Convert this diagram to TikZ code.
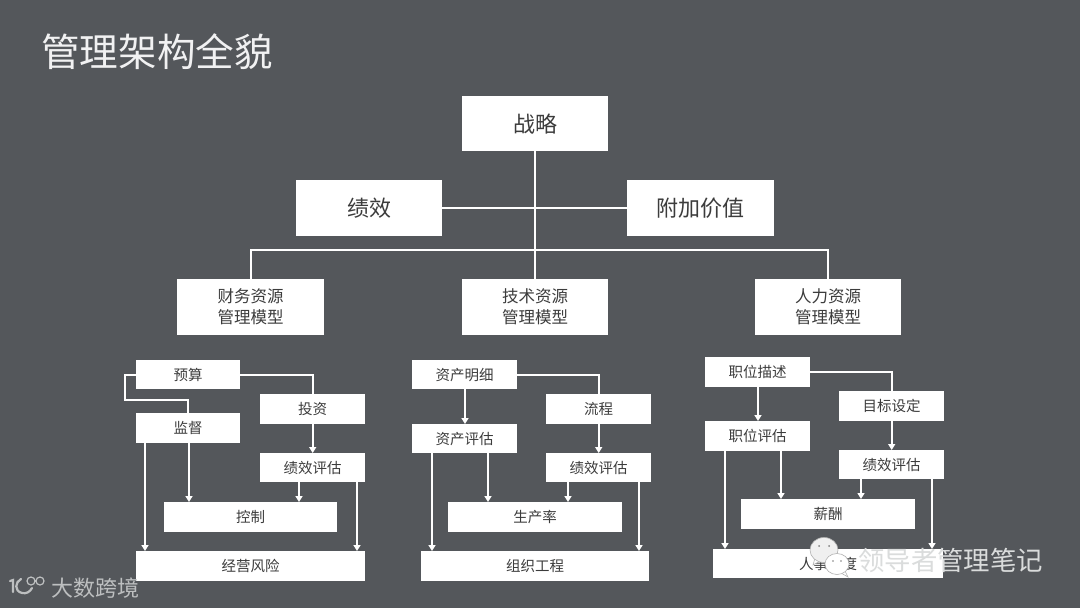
\documentclass[tikz,border=0pt]{standalone}
\usepackage{fontspec}
\setmainfont{Noto Sans CJK SC}
\usetikzlibrary{arrows.meta}
\definecolor{bg}{HTML}{54575B}
\definecolor{ink}{HTML}{3C3C3C}
\definecolor{wm}{HTML}{DADCDC}
\definecolor{logo}{HTML}{BDBFC0}
\tikzset{
 box/.style={fill=white,draw=none,inner sep=0pt,text=ink,align=center,anchor=north west,font=\fontsize{#1}{#1}\selectfont},
 line/.style={draw=white,line width=2pt},
 arr/.style={line,-{Triangle[length=6pt,width=7pt]}},
 wmark/.style={inner sep=0pt,text=wm,anchor=west},
 bubble/.style={fill=white,draw=gray!60,line width=.6pt},
 logoline/.style={draw=logo,line width=1.8pt}
}
\newcommand{\bx}[6]{\node[box=#6,minimum width=#3*1pt-#1*1pt,minimum height=#4*1pt-#2*1pt] (#5) at (#1,#2)}
\begin{document}
\begin{tikzpicture}[x=1pt,y=-1pt]
\fill[bg] (0,0) rectangle (1080,608);
\useasboundingbox (0,0) rectangle (1080,608);
\node[inner sep=0pt,anchor=west,text=white!92!bg,font=\fontsize{38.6}{38.6}\selectfont] (title) at (41,52) {管理架构全貌};
% top
\bx{462}{96}{608}{151}{zl}{22} {战略};
\bx{296}{180}{442}{236}{jx}{22} {绩效};
\bx{627}{180}{774}{236}{fj}{22} {附加价值};
\bx{177}{279}{324}{335}{cw}{16.5} {财务资源\\[4.5pt]管理模型};
\bx{462}{279}{608}{335}{js}{16.5} {技术资源\\[4.5pt]管理模型};
\bx{755}{279}{901}{335}{rl}{16.5} {人力资源\\[4.5pt]管理模型};
\coordinate (bar) at (535,250);
\draw[line] (zl.south) -- (js.north);
\draw[line] (jx.east) -- (fj.west);
\draw[line] (cw.north) |- (bar) -| (rl.north);
% left
\bx{136}{360}{240}{389}{ys}{14.5} {预算};
\bx{260}{394}{365}{424}{tz}{14.5} {投资};
\bx{136}{413}{240}{443}{jd}{14.5} {监督};
\bx{260}{453}{365}{482}{pa}{14.5} {绩效评估};
\bx{164}{502}{337}{532}{kz}{14.5} {控制};
\bx{136}{551}{365}{581}{jy}{14.5} {经营风险};
\coordinate (a1) at (125,400);
\draw[line] (ys.east) -| (tz.north);
\draw[line] (ys.west) -| (a1) -| (jd.north);
\draw[arr] (tz.south) -- (pa.north);
\draw[arr] (189,443) -- (189,502);
\draw[arr] (145,443) -- (145,551);
\draw[arr] (299,482) -- (299,502);
\draw[arr] (357,482) -- (357,551);
% middle
\bx{412}{360}{517}{389}{zc}{14.5} {资产明细};
\bx{546}{394}{651}{424}{lc}{14.5} {流程};
\bx{412}{424}{517}{453}{zp}{14.5} {资产评估};
\bx{546}{453}{651}{482}{pb}{14.5} {绩效评估};
\bx{448}{502}{622}{532}{sc}{14.5} {生产率};
\bx{421}{551}{649}{581}{zz}{14.5} {组织工程};
\draw[line] (zc.east) -| (lc.north);
\draw[arr] (lc.south) -- (pb.north);
\draw[arr] (465,389) -- (465,424);
\draw[arr] (432,453) -- (432,551);
\draw[arr] (488,453) -- (488,502);
\draw[arr] (568,482) -- (568,502);
\draw[arr] (639,482) -- (639,551);
% right
\bx{705}{357}{810}{387}{zw}{14.5} {职位描述};
\bx{839}{391}{944}{421}{mb}{14.5} {目标设定};
\bx{705}{421}{810}{451}{zg}{14.5} {职位评估};
\bx{839}{450}{944}{479}{pc}{14.5} {绩效评估};
\bx{741}{499}{915}{529}{xc}{14.5} {薪酬};
\bx{713}{549}{943}{578}{rf}{14.5} {人事制度};
\draw[line] (zw.east) -| (mb.north);
\draw[arr] (mb.south) -- (pc.north);
\draw[arr] (758,387) -- (758,421);
\draw[arr] (725,451) -- (725,549);
\draw[arr] (781,451) -- (781,499);
\draw[arr] (861,479) -- (861,499);
\draw[arr] (932,479) -- (932,549);
% watermarks
\node[wmark,font=\fontsize{26.4}{26.4}\selectfont] (wx) at (858,560) {领导者管理笔记};
\path[bubble] (815,558) -- (813,565) -- (820,561) -- cycle;
\path[bubble,fill=white!88!gray] (824,550) ellipse (14 and 12.5);
\fill[gray] (819,546) circle (1) (829,546) circle (1);
\path[bubble] (845,571) -- (848,577) -- (841,573) -- cycle;
\path[bubble] (837,564) ellipse (12 and 10.5);
\fill[gray] (833,561) circle (.9) (841,561) circle (.9);
\node[inner sep=0pt,anchor=west,text=logo,font=\fontsize{22}{22}\selectfont] (ds) at (51,588) {大数跨境};
\draw[logoline,line cap=round,line width=2.2pt] (10,581) -- (13,580) -- (13,592);
\draw[logoline,line cap=round,line width=2.2pt] (21,579) .. controls (15,582) and (14,591) .. (22,593) .. controls (26,594) and (30,592) .. (32,588);
\draw[logoline,line width=1.2pt] (31,581) circle (4) (40,581) circle (4);
\end{tikzpicture}
\end{document}
